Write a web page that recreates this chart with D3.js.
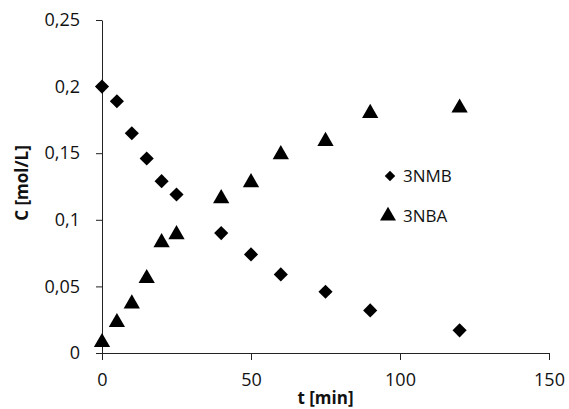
<!DOCTYPE html>
<html>
<head>
<meta charset="utf-8">
<script src="https://cdn.jsdelivr.net/npm/d3@7"></script>
<style>
  body { margin: 0; background: #fff; }
  text { font-family: "Open Sans", "Liberation Sans", sans-serif; }
</style>
</head>
<body>
<div id="chart"></div>
<script>

    var timeMin = [0, 5, 10, 15, 20, 25, 40, 50, 60, 75, 90, 120];
    var conc3NMB = [0.200, 0.189, 0.165, 0.146, 0.129, 0.119, 0.090, 0.074, 0.059, 0.046, 0.032, 0.017];
    var conc3NBA = [0.008, 0.023, 0.037, 0.056, 0.083, 0.089, 0.116, 0.128, 0.149, 0.159, 0.180, 0.184];
    var xTicks = [0, 50, 100, 150];
    var yTicks = [0, 0.05, 0.1, 0.15, 0.2, 0.25];
    var seriesNames = ["3NMB", "3NBA"];

    var width = 569,
        height = 409;

    var margin = { top: 20, right: 20, bottom: 56, left: 102 },
        iwidth = 549 - margin.left,
        iheight = 353 - margin.top;

    var svg = d3.select("#chart")
      .append("svg")
      .attr("width", width)
      .attr("height", height);

    var gDrawing = svg.append("g")
      .attr("transform", `translate(${margin.left}, ${margin.top})`);

    var x = d3.scaleLinear().domain([0, 150]).range([0, iwidth]);
    var y = d3.scaleLinear().domain([0, 0.25]).range([iheight, 0]);

    var fmt = function(d){ return String(d).replace(".", ","); };

    // axes
    var xAxis = gDrawing.append("g")
      .attr("transform", `translate(0, ${iheight})`)
      .call(d3.axisBottom(x).tickValues(xTicks).tickFormat(fmt).tickSize(7).tickPadding(13).tickSizeOuter(0));

    var yAxis = gDrawing.append("g")
      .call(d3.axisLeft(y).tickValues(yTicks).tickFormat(fmt).tickSize(6).tickPadding(16).tickSizeOuter(0));

    [xAxis, yAxis].forEach(function(a){
      a.select(".domain").attr("stroke", "#222");
      a.selectAll(".tick line").attr("stroke", "#222");
      a.selectAll(".tick text").attr("font-size", 18).attr("fill", "#111")
        .attr("font-family", "'Open Sans', sans-serif");
    });

    // axis titles
    svg.append("text")
      .attr("x", margin.left + iwidth / 2)
      .attr("y", 404)
      .attr("text-anchor", "middle")
      .attr("font-size", 17)
      .attr("font-weight", "bold")
      .attr("fill", "#111")
      .text("t [min]");

    svg.append("text")
      .attr("transform", "translate(28, 183) rotate(-90)")
      .attr("text-anchor", "middle")
      .attr("font-size", 17)
      .attr("font-weight", "bold")
      .attr("fill", "#111")
      .text("C [mol/L]");

    // markers
    var diamond = d3.symbol().type(d3.symbolSquare).size(100);
    var triangle = d3.symbol().type(d3.symbolTriangle).size(115);

    gDrawing.append("g").selectAll("path")
      .data(timeMin)
      .enter()
      .append("path")
      .attr("d", diamond)
      .attr("fill", "#000")
      .attr("transform", function(d, i){
        return `translate(${x(d)}, ${y(conc3NMB[i])}) rotate(45)`;
      });

    gDrawing.append("g").selectAll("path")
      .data(timeMin)
      .enter()
      .append("path")
      .attr("d", triangle)
      .attr("fill", "#000")
      .attr("transform", function(d, i){
        return `translate(${x(d)}, ${y(conc3NBA[i])})`;
      });

    // legend
    var legend = svg.append("g").attr("transform", "translate(390, 176)");
    legend.append("path")
      .attr("d", d3.symbol().type(d3.symbolSquare).size(55))
      .attr("transform", "rotate(45)")
      .attr("fill", "#000");
    legend.append("path")
      .attr("d", d3.symbol().type(d3.symbolTriangle).size(110))
      .attr("transform", "translate(-2, 40)")
      .attr("fill", "#000");
    legend.selectAll("text")
      .data(seriesNames)
      .enter()
      .append("text")
      .attr("x", 13)
      .attr("y", function(d, i){ return i * 40; })
      .attr("dy", "0.35em")
      .attr("font-size", 17)
      .attr("fill", "#111")
      .text(function(d){ return d; });

</script>
</body>
</html>
